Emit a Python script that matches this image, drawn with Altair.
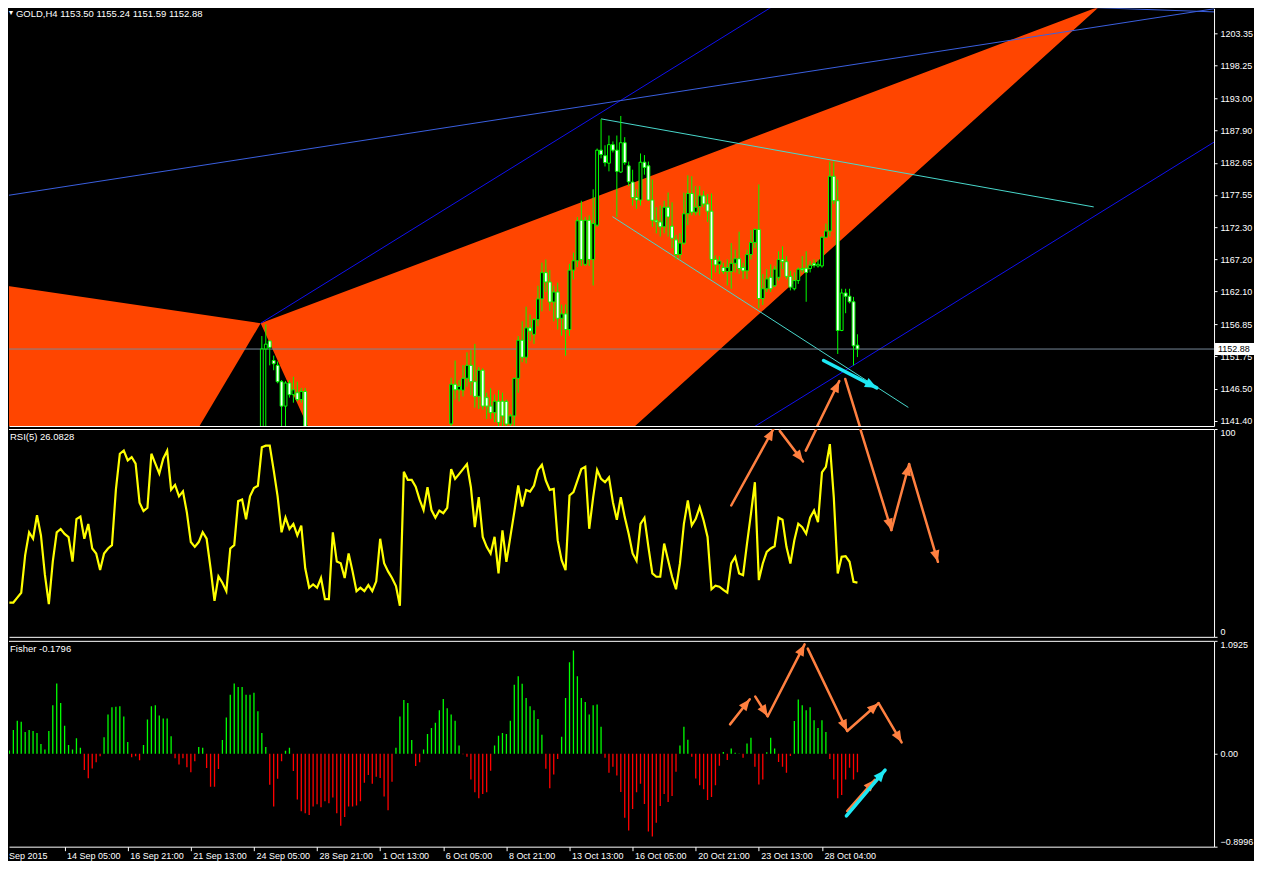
import math
import json
import altair as alt
import pandas as pd

# ---------------- data ----------------
candle_k = list(range(64, 76)) + list(range(112, 216))
candle_open = [1138.5, 1152.9, 1154.18, 1151.05, 1150.27, 1147.66, 1143.75, 1147.45, 1145.58, 1145.89, 1144.8, 1146.09,
    1140.9, 1147.25, 1146.36, 1146.3, 1148.2, 1150.27, 1147.66, 1145.31, 1149.49, 1145.11,
    1143.75, 1142.71, 1144.53, 1144.53, 1144.5, 1140.88, 1142.18, 1148.19, 1154.29, 1151.57,
    1156.26, 1155.23, 1157.58, 1160.9, 1165.1, 1163.6, 1160.4, 1162.0, 1157.8, 1158.5,
    1156.0, 1165.5, 1167.0, 1173.47, 1166.43, 1173.47, 1167.21, 1172.69, 1184.69, 1183.8,
    1182.6, 1185.57, 1184.69, 1181.19, 1185.88, 1182.18, 1179.58, 1177.12, 1176.71, 1182.76,
    1182.18, 1176.71, 1173.47, 1173.21, 1172.43, 1175.56, 1172.53, 1170.34, 1168.0, 1169.82,
    1174.52, 1177.75, 1174.78, 1175.66, 1177.38, 1176.08, 1174.93, 1167.21, 1166.43, 1165.91,
    1165.29, 1165.29, 1166.59, 1167.32, 1165.91, 1165.39, 1167.99, 1169.93, 1172.01, 1160.96,
    1162.52, 1164.35, 1163.0, 1164.35, 1167.21, 1166.85, 1164.5, 1162.52, 1163.83, 1165.76,
    1165.81, 1165.76, 1166.59, 1166.17, 1166.17, 1170.76, 1171.75, 1180.51, 1176.6, 1155.85,
    1161.84, 1161.32, 1160.44, 1153.50]
candle_high = [1154.96, 1156.84, 1154.18, 1151.83, 1150.9, 1147.92, 1147.75, 1147.92, 1148.45, 1147.66, 1146.66, 1146.66,
    1148.3, 1151.05, 1147.9, 1150.3, 1152.35, 1152.7, 1153.7, 1150.0, 1149.8, 1145.9,
    1146.6, 1145.6, 1146.3, 1145.9, 1144.8, 1142.5, 1148.3, 1154.96, 1157.31, 1159.66,
    1158.4, 1157.83, 1163.0, 1166.7, 1167.2, 1165.5, 1163.0, 1163.5, 1160.0, 1160.0,
    1166.5, 1168.3, 1174.0, 1176.6, 1174.0, 1174.26, 1178.43, 1184.95, 1189.64, 1185.47,
    1187.03, 1186.09, 1187.03, 1190.16, 1186.77, 1182.86, 1181.56, 1178.43, 1184.16, 1183.9,
    1182.86, 1179.99, 1175.56, 1175.82, 1176.6, 1177.91, 1176.34, 1171.13, 1171.39, 1177.91,
    1180.67, 1180.51, 1178.95, 1178.95, 1178.17, 1177.65, 1177.75, 1167.84, 1167.74, 1166.69,
    1167.21, 1169.82, 1168.78, 1171.65, 1166.69, 1168.78, 1171.91, 1172.17, 1179.21, 1164.87,
    1165.65, 1166.43, 1166.17, 1168.52, 1169.3, 1167.74, 1165.39, 1165.13, 1165.91, 1167.74,
    1168.52, 1166.95, 1167.21, 1167.21, 1170.87, 1172.95, 1182.86, 1182.86, 1179.99, 1162.52,
    1162.52, 1162.52, 1161.22, 1155.24]
candle_low = [1137.0, 1139.5, 1150.27, 1149.49, 1147.4, 1140.3, 1140.3, 1145.11, 1144.3, 1144.53, 1144.3, 1137.5,
    1139.5, 1144.8, 1144.5, 1145.3, 1146.87, 1145.5, 1143.5, 1143.3, 1143.2, 1141.7,
    1141.7, 1141.2, 1140.0, 1140.0, 1139.5, 1139.0, 1139.5, 1145.89, 1150.78, 1150.58,
    1154.18, 1153.71, 1156.53, 1158.9, 1162.0, 1159.0, 1157.3, 1156.0, 1155.0, 1151.8,
    1155.0, 1164.0, 1166.0, 1166.17, 1166.17, 1166.17, 1163.04, 1172.43, 1183.38, 1182.08,
    1181.3, 1184.32, 1174.0, 1181.03, 1182.34, 1178.95, 1175.82, 1175.3, 1175.82, 1180.77,
    1176.6, 1172.43, 1171.39, 1170.87, 1171.39, 1170.87, 1169.04, 1167.21, 1167.21, 1169.56,
    1172.69, 1174.26, 1174.26, 1174.26, 1175.56, 1173.21, 1164.09, 1165.13, 1164.87, 1164.87,
    1163.04, 1162.52, 1165.13, 1164.87, 1164.09, 1164.09, 1167.21, 1169.04, 1159.39, 1159.91,
    1162.0, 1162.0, 1162.8, 1163.83, 1165.65, 1164.09, 1162.26, 1162.26, 1163.3, 1165.13,
    1160.44, 1165.13, 1165.91, 1165.91, 1165.91, 1170.6, 1170.87, 1176.08, 1152.09, 1155.74,
    1158.61, 1160.18, 1150.27, 1151.59]
candle_close = [1152.88, 1153.66, 1153.14, 1150.53, 1147.66, 1143.75, 1147.45, 1145.58, 1146.36, 1144.8, 1146.09, 1138.5,
    1147.25, 1146.36, 1146.9, 1148.2, 1150.27, 1147.66, 1145.31, 1149.49, 1143.75, 1143.75,
    1142.71, 1144.53, 1141.15, 1142.18, 1140.88, 1142.18, 1148.19, 1154.29, 1151.57, 1156.26,
    1155.75, 1157.58, 1160.9, 1165.1, 1163.6, 1160.4, 1162.0, 1157.8, 1158.5, 1156.0,
    1165.5, 1167.0, 1173.4, 1167.21, 1173.47, 1167.21, 1172.95, 1184.69, 1184.0, 1182.7,
    1185.57, 1184.69, 1181.3, 1185.88, 1182.7, 1179.63, 1177.12, 1176.71, 1182.76, 1181.92,
    1176.71, 1173.47, 1173.21, 1172.43, 1175.56, 1174.0, 1170.6, 1168.0, 1169.82, 1174.52,
    1177.75, 1174.78, 1175.56, 1177.38, 1176.08, 1174.93, 1167.21, 1166.33, 1166.95, 1165.29,
    1165.91, 1166.59, 1167.32, 1165.76, 1165.39, 1167.99, 1169.93, 1172.01, 1160.96, 1162.52,
    1164.09, 1162.52, 1165.65, 1167.21, 1166.85, 1164.5, 1162.78, 1163.83, 1165.65, 1165.55,
    1165.13, 1166.28, 1166.28, 1166.43, 1170.76, 1171.75, 1180.51, 1176.6, 1155.85, 1161.84,
    1161.32, 1160.44, 1153.4, 1152.88]

rsi_values = [16.5, 16.5, 18.9, 21.2, 39.3, 50.3, 47.2, 58.5, 48.8, 29.9,
    15.7, 36.2, 50.3, 51.9, 49.5, 48.0, 36.2, 56.6, 57.9, 47.2,
    54.3, 42.5, 40.1, 32.2, 40.1, 42.5, 44.1, 70.8, 88.1, 89.6,
    84.9, 86.5, 83.3, 64.5, 60.5, 62.1, 88.1, 83.3, 78.6, 85.7,
    89.6, 70.8, 73.1, 67.6, 70.0, 59.8, 45.6, 43.3, 45.6, 50.3,
    47.2, 33.0, 17.3, 29.1, 26.0, 22.0, 42.5, 44.1, 65.3, 66.1,
    56.6, 67.6, 71.6, 72.7, 91.2, 92.0, 92.0, 80.2, 67.6, 50.3,
    57.4, 51.9, 54.3, 48.8, 53.5, 33.0, 23.6, 25.2, 23.6, 28.3,
    18.1, 18.1, 50.3, 36.2, 35.4, 28.3, 40.1, 31.5, 22.0, 23.6,
    22.0, 24.9, 22.0, 26.7, 47.2, 35.4, 31.5, 28.3, 24.4, 15.0,
    79.4, 75.5, 75.5, 72.3, 66.0, 61.0, 72.0, 61.0, 57.3, 60.8,
    59.5, 62.1, 80.7, 76.0, 78.3, 80.7, 83.1, 72.0, 52.8, 67.2,
    48.1, 43.3, 40.1, 48.1, 30.5, 51.2, 36.1, 48.1, 60.0, 72.8,
    62.7, 70.7, 69.9, 72.8, 80.3, 82.8, 75.2, 70.7, 71.2, 46.5,
    36.9, 32.1, 68.0, 69.6, 75.2, 80.7, 81.8, 52.0, 67.2, 80.3,
    76.0, 74.4, 76.7, 64.8, 56.3, 67.2, 57.6, 49.6, 40.1, 36.6,
    54.4, 57.3, 43.3, 30.5, 28.9, 28.9, 44.9, 36.9, 28.9, 22.9,
    35.3, 54.4, 65.6, 53.6, 56.8, 62.4, 56.0, 48.1, 22.9, 24.6,
    24.1, 22.6, 21.3, 35.3, 38.5, 30.5, 29.7, 44.9, 59.2, 74.4,
    27.3, 35.3, 40.9, 42.5, 43.6, 57.3, 56.3, 43.3, 35.3, 46.5,
    54.4, 52.8, 49.6, 57.3, 60.8, 55.2, 79.1, 81.8, 92.7, 67.2,
    30.5, 38.5, 38.8, 36.1, 26.5, 26.08]

fisher_values = [0.03, 0.23, 0.32, 0.31, 0.21, 0.23, 0.22, 0.20, 0.095, 0.04,
    0.22, 0.47, 0.68, 0.49, 0.27, 0.085, 0.04, 0.15, 0.057, -0.158,
    -0.237, -0.142, -0.082, -0.025, 0.16, 0.38, 0.45, 0.455, 0.46, 0.36,
    0.114, -0.035, -0.025, -0.063, 0.085, 0.33, 0.46, 0.47, 0.37, 0.34,
    0.34, 0.17, -0.044, -0.104, -0.044, -0.13, -0.18, -0.073, 0.066, 0.057,
    -0.139, -0.319, -0.319, -0.149, 0.133, 0.35, 0.57, 0.68, 0.645, 0.645,
    0.57, 0.57, 0.59, 0.41, 0.20, 0.066, -0.30, -0.51, -0.243, -0.073,
    0.028, 0.057, -0.167, -0.442, -0.556, -0.575, -0.594, -0.51, -0.49, -0.518,
    -0.461, -0.48, -0.423, -0.575, -0.698, -0.613, -0.51, -0.51, -0.50, -0.461,
    -0.281, -0.205, -0.29, -0.224, -0.234, -0.414, -0.547, -0.272, 0.057, 0.36,
    0.52, 0.49, 0.133, -0.12, -0.082, 0.04, 0.19, 0.25, 0.30, 0.42,
    0.53, 0.44, 0.38, 0.32, 0.08, -0.006, -0.03, -0.25, -0.373, -0.43,
    -0.39, -0.373, -0.164, 0.08, 0.174, 0.20, 0.19, 0.32, 0.667, 0.75,
    0.676, 0.54, 0.46, 0.42, 0.335, 0.183, -0.145, -0.335, -0.20, -0.05,
    0.164, 0.54, 0.885, 1.0, 0.75, 0.54, 0.50, 0.38, 0.47, 0.477,
    0.26, -0.04, -0.183, -0.126, -0.21, -0.37, -0.62, -0.743, -0.534, -0.373,
    -0.29, -0.487, -0.752, -0.80, -0.667, -0.506, -0.39, -0.468, -0.41, -0.174,
    0.08, 0.26, 0.136, -0.03, -0.24, -0.306, -0.344, -0.449, -0.42, -0.306,
    -0.117, 0.016, -0.06, 0.05, 0.01, 0.003, -0.04, 0.10, 0.155, -0.126,
    -0.297, -0.25, 0.013, 0.155, 0.05, -0.08, -0.126, -0.183, -0.022, 0.316,
    0.525, 0.47, 0.42, 0.45, 0.325, 0.25, 0.325, 0.21, -0.05, -0.25,
    -0.43, -0.40, -0.25, -0.136, -0.25, -0.1796]

date_ticks = [14, 30, 46, 62, 78, 94, 110, 126, 142, 158, 174, 190, 206]
date_labels = ["14 Sep 05:00", "16 Sep 21:00", "21 Sep 13:00", "24 Sep 05:00", "28 Sep 21:00",
               "1 Oct 13:00", "6 Oct 05:00", "8 Oct 21:00", "13 Oct 13:00", "16 Oct 05:00",
               "20 Oct 21:00", "23 Oct 13:00", "28 Oct 04:00"]
price_ticks = [1203.35, 1198.25, 1193.00, 1187.90, 1182.65, 1177.55, 1172.30,
               1167.20, 1162.10, 1156.85, 1151.75, 1146.50, 1141.40]
last_price = 1152.88

# drawn objects (bar index, price)
left_fill_k = [-1.1, 63.7]
left_fill_top = [1163.04, 1157.0]
left_fill_bottom = [1088.3, 1157.0]
big_fill_k = [63.7, 99.9, 276.4]
big_fill_top = [1157.0, 1165.6, 1207.68]
big_fill_bottom = [1157.0, 1107.1, 1207.68]

line_k1 = [63.7, 180.0, -1.0, 270.0, 150.0, 152.9]
line_p1 = [1157.0, 1137.0, 1177.39, 1207.6, 1189.69, 1174.05]
line_k2 = [215.0, 310.0, 310.0, 310.0, 274.9, 227.9]
line_p2 = [1216.08, 1187.77, 1207.75, 1206.7, 1175.61, 1143.54]
line_col = ["#1010f0", "#1010f0", "#3a5fe0", "#3a5fe0", "#48d8cc", "#48d8cc"]

# hand-drawn arrows, RSI window units
rsi_arrow_k1 = [183.0, 195.3, 201.9, 211.9, 223.6, 228.1]
rsi_arrow_v1 = [63.2, 99.1, 89.6, 123.6, 51.4, 83.1]
rsi_arrow_k2 = [193.7, 201.2, 210.4, 223.6, 228.1, 235.4]
rsi_arrow_v2 = [100.0, 84.4, 122.6, 51.4, 83.1, 36.1]
# Fisher window units
fis_arrow_k1 = [182.7, 189.1, 192.25, 202.4, 212.4, 220.35, 212.4]
fis_arrow_v1 = [0.284, 0.553, 0.363, 1.017, 0.22, 0.489, -0.554]
fis_arrow_k2 = [187.7, 192.25, 201.6, 212.4, 220.35, 226.2, 219.4]
fis_arrow_v2 = [0.527, 0.363, 1.058, 0.22, 0.489, 0.11, -0.253]
fis_cyan = dict(k1=[212.2], v1=[-0.601], k2=[222.0], v2=[-0.158])
price_cyan = dict(k1=[206.4], v1=[1151.05], k2=[219.9], v2=[1146.67])

# ---------------- layout ----------------
W = 1206
H1, H2, H3 = 418, 208, 206
GAP = 2
K_MIN, K_MAX = -0.1, 305.4
P_MIN, P_MAX = 1140.57, 1207.37
R_MIN, R_MAX = 0, 100
F_MIN, F_MAX = -0.8996, 1.0925

ORANGE_FILL = "#ff4500"
ARROW = "#ff8040"
CYAN = "#1ee8f4"
FONT = "Liberation Sans"
HEAD = "M0,0L-0.42,1L0.42,1Z"

xs = alt.Scale(domain=[K_MIN, K_MAX], nice=False, zero=False)


def xenc(field, axis):
    return alt.X(field, type="quantitative", scale=xs, axis=axis, title=None)


def head_angle(k1, v1, k2, v2, vrange, h):
    dx = (k2 - k1) * W / (K_MAX - K_MIN)
    dup = (v2 - v1) * h / vrange
    return math.degrees(math.atan2(dx, dup)) % 360


def rsi_to_price(v):
    py = H1 + GAP + (100 - v) / 100 * H2
    return P_MAX - py / H1 * (P_MAX - P_MIN)


def arrow_layers(k1, v1, k2, v2, ysc, yaxis, xaxis, vrange, h, color, width, hsize):
    df = pd.DataFrame(dict(k1=k1, v1=v1, k2=k2, v2=v2))
    df["ang"] = [head_angle(a, b, c, d, vrange, h) for a, b, c, d in zip(k1, v1, k2, v2)]
    shaft = alt.Chart(df).mark_rule(color=color, strokeWidth=width, clip=True, strokeCap="round").encode(
        x=xenc("k1", xaxis), x2="k2:Q",
        y=alt.Y("v1:Q", scale=ysc, axis=yaxis, title=None), y2="v2:Q")
    head = alt.Chart(df).mark_point(shape=HEAD, filled=True, color=color, opacity=1, size=hsize,
                                    strokeWidth=0, clip=True).encode(
        x=xenc("k2", xaxis),
        y=alt.Y("v2:Q", scale=ysc, axis=yaxis, title=None),
        angle=alt.Angle("ang:Q", scale=None))
    return [shaft, head]


axis_common = dict(domainColor="white", tickColor="white", labelColor="white", labelFont=FONT,
                   labelFontSize=9, grid=False, zindex=1)

# ---------------- price window ----------------
ps = alt.Scale(domain=[P_MIN, P_MAX], nice=False, zero=False)
p_yaxis = alt.Axis(orient="right", values=price_ticks, format=".2f", tickSize=3, labelPadding=3,
                   labelFlush=False, labelOverlap=False, **axis_common)
p_xaxis = alt.Axis(orient="bottom", labels=False, ticks=False, domain=True, **axis_common)


def py(field):
    return alt.Y(field, type="quantitative", scale=ps, axis=p_yaxis, title=None)


left_df = pd.DataFrame(dict(k=left_fill_k, top=left_fill_top, bot=left_fill_bottom))
big_df = pd.DataFrame(dict(k=big_fill_k, top=big_fill_top, bot=big_fill_bottom))
fill_left = alt.Chart(left_df).mark_area(color=ORANGE_FILL, clip=True, orient="vertical").encode(
    x=xenc("k", p_xaxis), y=py("top"), y2="bot:Q")
fill_big = alt.Chart(big_df).mark_area(color=ORANGE_FILL, clip=True, orient="vertical").encode(
    x=xenc("k", p_xaxis), y=py("top"), y2="bot:Q")

lines_df = pd.DataFrame(dict(k1=line_k1, p1=line_p1, k2=line_k2, p2=line_p2, c=line_col))
obj_lines = alt.Chart(lines_df).mark_rule(strokeWidth=1, clip=True).encode(
    x=xenc("k1", p_xaxis), x2="k2:Q", y=py("p1"), y2="p2:Q", color=alt.Color("c:N", scale=None))

hline = alt.Chart(pd.DataFrame(dict(p=[last_price]))).mark_rule(color="#778899", strokeWidth=1).encode(
    y=py("p"))

cdf = pd.DataFrame(dict(k=candle_k, o=candle_open, h=candle_high, l=candle_low, c=candle_close))
wicks = alt.Chart(cdf).mark_rule(color="#00ff00", strokeWidth=1, clip=True).encode(
    x=xenc("k", p_xaxis), y=py("l"), y2="h:Q")
bodies = alt.Chart(cdf).transform_calculate(
    ka="datum.k - 0.36", kb="datum.k + 0.36").mark_rect(stroke="#00ff00", strokeWidth=1, clip=True).encode(
    x=xenc("ka", p_xaxis), x2="kb:Q", y=py("o"), y2="c:Q",
    fill=alt.condition("datum.c >= datum.o", alt.value("black"), alt.value("white")))

pr_k1 = rsi_arrow_k1
pr_v1 = [rsi_to_price(v) for v in rsi_arrow_v1]
pr_k2 = rsi_arrow_k2
pr_v2 = [rsi_to_price(v) for v in rsi_arrow_v2]
price_arrows = arrow_layers(pr_k1, pr_v1, pr_k2, pr_v2, ps, p_yaxis, p_xaxis, P_MAX - P_MIN, H1,
                            ARROW, 2.5, 520)
price_cyan_arrow = arrow_layers(price_cyan["k1"], price_cyan["v1"], price_cyan["k2"], price_cyan["v2"],
                                ps, p_yaxis, p_xaxis, P_MAX - P_MIN, H1, CYAN, 3.5, 560)

title_df = pd.DataFrame(dict(t=["GOLD,H4  1153.50 1155.24 1151.59 1152.88"]))
title_txt = alt.Chart(title_df).mark_text(align="left", baseline="middle", color="white",
                                          font=FONT, fontSize=9.5).encode(
    x=alt.value(7), y=alt.value(6), text="t:N")
marker_txt = alt.Chart(pd.DataFrame(dict(t=["\u25be"]))).mark_text(
    align="left", baseline="middle", color="white", font="DejaVu Sans", fontSize=8).encode(
    x=alt.value(0), y=alt.value(5), text="t:N")

box_df = pd.DataFrame(dict(p=[last_price], t=["1152.88"]))
dp = 6.0 / H1 * (P_MAX - P_MIN)
price_box = alt.Chart(box_df).transform_calculate(
    pa=f"datum.p + {dp}", pb=f"datum.p - {dp}").mark_rect(color="white").encode(
    x=alt.value(W + 1), x2=alt.value(W + 40), y=py("pa"), y2="pb:Q")
price_box_txt = alt.Chart(box_df).mark_text(align="left", baseline="middle", color="black",
                                            font=FONT, fontSize=9).encode(
    x=alt.value(W + 4), y=py("p"), text="t:N")

price_panel = alt.layer(fill_left, fill_big, obj_lines, hline, wicks, bodies,
                        *price_arrows, *price_cyan_arrow,
                        title_txt, marker_txt, price_box, price_box_txt).properties(width=W, height=H1)

# ---------------- RSI window ----------------
rs = alt.Scale(domain=[R_MIN, R_MAX], nice=False, zero=False)
r_yaxis = alt.Axis(orient="right", values=[0, 100], format="d", tickSize=3, labelPadding=3,
                   labelFlush=True, **axis_common)
r_xaxis = alt.Axis(orient="bottom", labels=False, ticks=False, domain=True, **axis_common)

rsi_df = pd.DataFrame(dict(k=list(range(len(rsi_values))), r=rsi_values))
rsi_line = alt.Chart(rsi_df).mark_line(color="#ffff00", strokeWidth=2.2, clip=True).encode(
    x=xenc("k", r_xaxis), y=alt.Y("r:Q", scale=rs, axis=r_yaxis, title=None))
rsi_border = alt.Chart(pd.DataFrame(dict(a=[0]))).mark_rule(color="white", strokeWidth=1).encode(
    x=alt.value(0), x2=alt.value(W), y=alt.value(0.5))
rsi_arrows = arrow_layers(rsi_arrow_k1, rsi_arrow_v1, rsi_arrow_k2, rsi_arrow_v2, rs, r_yaxis, r_xaxis,
                          R_MAX - R_MIN, H2, ARROW, 2.5, 520)
rsi_lbl = alt.Chart(pd.DataFrame(dict(t=["RSI(5) 26.0828"]))).mark_text(
    align="left", baseline="middle", color="white", font=FONT, fontSize=9.5).encode(
    x=alt.value(1), y=alt.value(8), text="t:N")
rsi_panel = alt.layer(rsi_line, rsi_border, *rsi_arrows, rsi_lbl).properties(width=W, height=H2)

# ---------------- Fisher window ----------------
fs = alt.Scale(domain=[F_MIN, F_MAX], nice=False, zero=False)
f_yaxis = alt.Axis(orient="right", values=[F_MIN, 0, F_MAX], tickSize=3, labelPadding=3,
                   labelFlush=True,
                   labelExpr="datum.value == 0 ? '0.00' : format(datum.value, '.4f')", **axis_common)
f_xaxis = alt.Axis(orient="bottom", values=date_ticks, tickSize=4, labelPadding=1,
                   labelAlign="left", labelOffset=2, labelFlush=False, labelOverlap=False,
                   labelExpr=json.dumps(date_labels) + "[round((datum.value - 14) / 16)]",
                   **axis_common)

fis_df = pd.DataFrame(dict(k=list(range(len(fisher_values))), f=fisher_values))
fis_bars = alt.Chart(fis_df).transform_calculate(z="0").mark_rule(strokeWidth=1.3, clip=True).encode(
    x=xenc("k", f_xaxis), y=alt.Y("f:Q", scale=fs, axis=f_yaxis, title=None), y2="z:Q",
    color=alt.condition("datum.f >= 0", alt.value("#00ff00"), alt.value("#ff0000")))
fis_border = alt.Chart(pd.DataFrame(dict(a=[0]))).mark_rule(color="white", strokeWidth=1).encode(
    x=alt.value(0), x2=alt.value(W), y=alt.value(0.5))
fis_arrows = arrow_layers(fis_arrow_k1, fis_arrow_v1, fis_arrow_k2, fis_arrow_v2, fs, f_yaxis, f_xaxis,
                          F_MAX - F_MIN, H3, ARROW, 2.5, 520)
fis_cyan_arrow = arrow_layers(fis_cyan["k1"], fis_cyan["v1"], fis_cyan["k2"], fis_cyan["v2"], fs, f_yaxis,
                              f_xaxis, F_MAX - F_MIN, H3, CYAN, 3.5, 560)
fis_lbl = alt.Chart(pd.DataFrame(dict(t=["Fisher -0.1796"]))).mark_text(
    align="left", baseline="middle", color="white", font=FONT, fontSize=9.5).encode(
    x=alt.value(1), y=alt.value(8), text="t:N")
sep_lbl = alt.Chart(pd.DataFrame(dict(t=["Sep 2015"]))).mark_text(
    align="left", baseline="top", color="white", font=FONT, fontSize=9).encode(
    x=alt.value(0), y=alt.value(H3 + 5), text="t:N")
fis_panel = alt.layer(fis_bars, fis_border, *fis_arrows, *fis_cyan_arrow, fis_lbl, sep_lbl).properties(
    width=W, height=H3)

chart = alt.vconcat(price_panel, rsi_panel, fis_panel, spacing=GAP).properties(
    padding=0, background="black").configure_view(stroke=None)

chart.save("out.html", embed_options={"renderer": "svg", "actions": False})
